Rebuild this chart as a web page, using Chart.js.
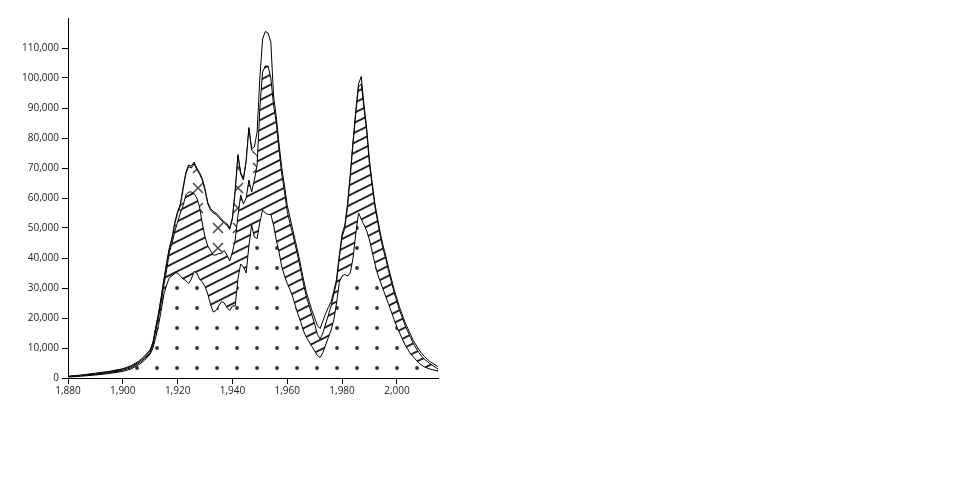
<!DOCTYPE html>
<html>
<head>
<meta charset="utf-8">
<script src="https://cdn.jsdelivr.net/npm/chart.js@4.4.1/dist/chart.umd.min.js"></script>
<style>
html,body{margin:0;padding:0;background:#fff;}
#wrap{width:960px;height:500px;}
</style>
</head>
<body>
<div id="wrap"><canvas id="c" width="960" height="500"></canvas></div>
<script>
// ---- data (values in thousands) ----
const years = [1880,1885,1890,1895,1900,1903,1906,1908,
  1910,1911,1912,1913,1914,1915,1916,1917,1918,1919,
  1920,1921,1922,1923,1924,1925,1926,1927,1928,1929,
  1930,1931,1932,1933,1934,1935,1936,1937,1938,1939,
  1940,1941,1942,1943,1944,1945,1946,1947,1948,1949,
  1950,1951,1952,1953,1954,1955,1956,1957,1958,1959,
  1960,1961,1962,1963,1964,1965,1966,1967,1968,1969,
  1970,1971,1972,1973,1974,1975,1976,1977,1978,1979,
  1980,1981,1982,1983,1984,1985,1986,1987,1988,1989,
  1990,1991,1992,1993,1994,1995,1996,1997,1998,1999,
  2000,2001,2002,2003,2004,2005,2006,2007,2008,2009,
  2010,2012,2015];

const dotsSeries = [0.3,0.6,1.0,1.5,2.2,3.0,4.5,6.0,
  8.0,10.0,13.5,17.5,22.5,28.0,31.0,33.5,34.0,35.0,
  35.0,34.0,33.0,32.5,31.5,33.0,35.5,35.0,33.0,32.0,
  30.5,28.0,24.5,22.0,22.5,24.0,25.5,25.0,23.5,22.5,
  24.0,24.0,33.0,38.0,37.0,35.0,44.0,51.0,47.0,46.5,
  52.0,56.0,55.0,54.5,54.5,51.0,46.0,42.0,37.0,34.0,
  31.5,29.5,27.0,24.0,21.0,18.5,15.5,13.5,12.0,10.5,
  9.0,7.5,6.8,8.5,11.0,13.5,16.0,19.5,25.0,32.0,
  34.0,34.5,34.0,35.0,40.0,48.0,55.0,53.0,51.0,49.0,
  46.0,42.0,38.0,34.5,32.0,29.5,27.0,24.5,22.0,19.5,
  17.0,15.0,13.0,11.0,9.5,8.0,7.0,6.0,5.0,4.3,
  3.7,3.0,2.3];

const hatchSeries = [0.4,0.8,1.2,1.8,2.6,3.4,5.0,6.5,
  8.5,11.0,15.5,20.0,25.0,31.0,36.0,42.0,45.0,49.0,
  52.0,55.0,57.5,61.0,62.0,62.0,61.5,60.0,57.0,51.5,
  47.0,44.0,42.5,41.0,41.0,41.5,41.5,42.5,41.0,39.0,
  42.0,46.0,54.0,61.0,58.0,60.0,66.0,62.0,66.0,71.0,
  90.0,102.0,104.0,104.0,100.0,91.0,85.0,76.0,68.0,62.0,
  55.5,51.5,48.0,44.0,40.0,35.5,31.0,27.0,24.0,21.0,
  18.0,14.5,13.0,15.0,18.0,21.0,24.0,28.0,32.0,40.0,
  47.0,50.0,57.0,67.0,78.0,88.0,97.0,98.0,90.0,82.0,
  71.0,64.0,57.0,52.0,47.0,43.0,39.5,35.5,32.0,28.5,
  25.5,22.5,20.0,17.5,15.5,13.5,11.5,10.0,8.5,7.3,
  6.3,4.8,3.0];

const crossSeries = [0.5,0.9,1.4,2.0,2.9,3.8,5.4,7.0,
  9.0,11.5,16.5,21.0,26.5,32.5,38.0,43.0,46.5,51.5,
  55.0,57.5,63.0,68.0,70.5,70.0,71.5,69.5,68.0,66.0,
  62.5,58.0,56.0,55.0,54.5,53.5,52.5,51.5,51.0,49.5,
  53.0,62.0,74.0,68.0,66.0,72.0,83.0,76.0,75.0,74.0,
  70.0,68.0,66.0,64.0,62.0,60.0,57.0,54.0,50.0,46.0,
  42.0,39.0,36.0,33.0,30.0,26.5,23.0,20.0,18.0,15.5,
  13.5,11.0,10.0,11.5,14.0,16.5,19.0,23.0,28.0,35.0,
  39.0,41.0,44.0,49.0,56.0,65.0,73.0,72.0,68.0,63.0,
  56.0,50.0,45.0,41.0,38.0,35.0,32.0,29.0,26.0,23.0,
  20.5,18.0,16.0,14.0,12.0,10.5,9.0,8.0,6.8,5.8,
  5.0,3.9,2.6];

const outerSeries = [0.6,1.0,1.6,2.2,3.1,4.1,5.7,7.4,
  9.4,12.0,17.0,21.5,27.0,33.0,38.5,43.5,47.0,52.0,
  55.5,58.0,63.5,68.5,71.0,70.6,72.0,70.0,68.5,66.5,
  63.0,58.5,56.5,55.5,55.0,54.0,53.0,52.0,51.5,50.0,
  53.5,62.5,74.5,68.5,66.5,72.5,83.5,76.5,77.0,82.0,
  100.0,113.0,115.5,115.0,112.0,94.0,87.0,78.0,70.0,64.0,
  57.5,53.5,49.5,45.5,41.5,37.0,32.5,28.5,25.5,22.5,
  20.0,17.5,16.5,19.0,21.5,23.5,25.5,29.0,33.0,41.0,
  48.0,51.0,58.0,68.0,79.0,89.0,98.0,100.5,91.0,83.0,
  72.5,65.0,58.0,53.0,48.0,44.0,40.5,36.5,33.0,29.5,
  26.5,23.5,21.0,18.5,16.5,14.5,12.5,11.0,9.5,8.3,
  7.2,5.5,3.8];

const UNIT = 1000;
const xMin = 1880, xMax = 2015, xStep = 20;
const yMin = 0, yMax = 120000, yStep = 10000, yLastTick = 110000;

// ---- patterns ----
function tile(w, h, draw) {
  const c = document.createElement('canvas');
  c.width = w; c.height = h;
  const g = c.getContext('2d');
  g.fillStyle = '#fff';
  g.fillRect(0, 0, w, h);
  draw(g);
  return document.getElementById('c').getContext('2d').createPattern(c, 'repeat');
}
const dotPattern = tile(20, 20, g => {
  g.fillStyle = '#333';
  g.beginPath(); g.arc(17, 8, 1.9, 0, Math.PI * 2); g.fill();
});
const hatchPattern = tile(20, 10, g => {
  g.strokeStyle = '#222';
  g.lineWidth = 2;
  for (let k = -2; k <= 2; k++) {
    g.beginPath();
    g.moveTo(-4, 10 + 2 + k * 10);
    g.lineTo(24, 10 - 12 + k * 10);
    g.stroke();
  }
});
const crossPattern = tile(20, 20, g => {
  g.strokeStyle = '#444';
  g.lineWidth = 1.5;
  [18, -2].forEach(cx => {
    g.beginPath();
    g.moveTo(cx - 5, 3); g.lineTo(cx + 5, 13);
    g.moveTo(cx + 5, 3); g.lineTo(cx - 5, 13);
    g.stroke();
  });
});

function pts(arr) { return years.map((yr, i) => ({x: yr, y: arr[i] * UNIT})); }

function ds(arr, bg) {
  return {
    data: pts(arr),
    fill: 'origin',
    backgroundColor: bg,
    borderColor: '#000',
    borderWidth: 1,
    pointRadius: 0,
    tension: 0
  };
}

const tickFont = {family: "'Open Sans', 'Noto Sans', sans-serif", size: 10};

new Chart(document.getElementById('c'), {
  type: 'line',
  data: {
    datasets: [
      ds(dotsSeries, dotPattern),
      ds(hatchSeries, hatchPattern),
      ds(crossSeries, crossPattern),
      ds(outerSeries, '#ffffff')
    ]
  },
  options: {
    responsive: false,
    devicePixelRatio: 1,
    animation: false,
    layout: {padding: {left: 0, top: 18, right: 522, bottom: 92}},
    plugins: {legend: {display: false}, tooltip: {enabled: false}},
    scales: {
      x: {
        type: 'linear',
        min: xMin, max: xMax,
        ticks: {
          stepSize: xStep, includeBounds: false, maxRotation: 0, autoSkip: false,
          font: tickFont, color: '#222', padding: 1,
          callback: v => Number(v).toLocaleString('en-US')
        },
        grid: {display: true, drawOnChartArea: false, drawTicks: true, tickLength: 6, tickColor: '#000', tickWidth: 1},
        border: {display: true, color: '#000', width: 1},
        afterFit: s => { s.height = 30; }
      },
      y: {
        type: 'linear',
        min: yMin, max: yMax,
        ticks: {
          stepSize: yStep, includeBounds: false, autoSkip: false,
          font: tickFont, color: '#222', padding: 3,
          callback: v => Number(v).toLocaleString('en-US')
        },
        afterBuildTicks: s => { s.ticks = s.ticks.filter(t => t.value <= yLastTick); },
        grid: {display: true, drawOnChartArea: false, drawTicks: true, tickLength: 6, tickColor: '#000', tickWidth: 1},
        border: {display: true, color: '#000', width: 1},
        afterFit: s => { s.width = 68; }
      }
    }
  }
});
</script>
</body>
</html>
